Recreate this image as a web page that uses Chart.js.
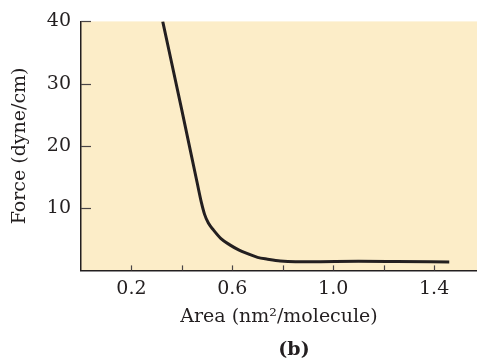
<!DOCTYPE html>
<html>
<head>
<meta charset="utf-8">
<script src="https://cdn.jsdelivr.net/npm/chart.js@4.4.1/dist/chart.umd.min.js"></script>
<style>
  html, body { margin: 0; padding: 0; background: #ffffff; }
  #wrap { width: 477px; height: 359px; position: relative; }
</style>
</head>
<body>
<div id="wrap"><canvas id="c"></canvas></div>
<script>
// Surface pressure isotherm (force vs. area per molecule)
const areaValues  = [0.324, 0.40, 0.46, 0.478, 0.490, 0.505, 0.525, 0.555, 0.59, 0.625, 0.66, 0.70, 0.74, 0.79, 0.85, 0.95, 1.10, 1.25, 1.46];
const forceValues = [40.0, 25.7, 14.2, 10.8, 9.0, 7.6, 6.5, 5.1, 4.1, 3.3, 2.7, 2.1, 1.8, 1.5, 1.38, 1.4, 1.45, 1.42, 1.36];
const xTickValues = [0.2, 0.4, 0.6, 0.8, 1.0, 1.2, 1.4];
const xTickLabels = ['0.2', '', '0.6', '', '1.0', '', '1.4'];
const yTickValues = [10, 20, 30, 40];
const yTickLabels = ['10', '20', '30', '40'];
const xTitle = 'Area (nm²/molecule)';
const yTitle = 'Force (dyne/cm)';
const panelLabel = '(b)';

const FONT = "'DejaVu Serif', serif";
const INK = '#231f20';

const points = areaValues.map((a, i) => ({ x: a, y: forceValues[i] }));

const paperPlugin = {
  id: 'paper',
  beforeDraw(chart) {
    const { ctx, chartArea: a } = chart;
    ctx.save();
    ctx.fillStyle = '#fcedc8';
    ctx.fillRect(a.left, a.top, a.right - a.left, a.bottom - a.top);
    ctx.restore();
  },
  afterDraw(chart) {
    const { ctx, chartArea: a, scales } = chart;
    ctx.save();
    ctx.strokeStyle = '#4a4546';
    ctx.lineWidth = 1.2;
    scales.x.ticks.forEach(t => {
      const px = Math.round(scales.x.getPixelForValue(t.value)) + 0.5;
      ctx.beginPath();
      ctx.moveTo(px, a.bottom);
      ctx.lineTo(px, a.bottom - 5);
      ctx.stroke();
    });
    scales.y.ticks.forEach(t => {
      const py = Math.round(scales.y.getPixelForValue(t.value)) + 0.5;
      ctx.beginPath();
      ctx.moveTo(a.left, py);
      ctx.lineTo(a.left + 10, py);
      ctx.stroke();
    });
    ctx.fillStyle = INK;
    ctx.font = "bold 19px " + FONT;
    ctx.textAlign = 'center';
    ctx.textBaseline = 'middle';
    ctx.fillText(panelLabel, (a.left + a.right) / 2 + 15, 350);
    ctx.restore();
  }
};

new Chart(document.getElementById('c'), {
  type: 'scatter',
  data: {
    datasets: [{
      data: points,
      showLine: true,
      borderColor: INK,
      borderWidth: 3,
      pointRadius: 0,
      cubicInterpolationMode: 'monotone',
      fill: false
    }]
  },
  options: {
    responsive: true,
    maintainAspectRatio: false,
    animation: false,
    devicePixelRatio: 1,
    layout: { padding: { left: 9, right: 0, top: 12, bottom: 31 } },
    plugins: { legend: { display: false }, tooltip: { enabled: false } },
    scales: {
      x: {
        type: 'linear',
        min: 0,
        max: 1.57,
        afterBuildTicks(scale) { scale.ticks = xTickValues.map(v => ({ value: v })); },
        ticks: {
          autoSkip: false,
          maxRotation: 0,
          padding: 7,
          color: INK,
          font: { family: FONT, size: 19 },
          callback(value) {
            const i = xTickValues.findIndex(v => Math.abs(v - value) < 1e-9);
            return i >= 0 ? xTickLabels[i] : '';
          }
        },
        grid: { display: false, drawTicks: false },
        border: { display: true, color: INK, width: 1.5 },
        title: {
          display: true,
          text: xTitle,
          color: INK,
          font: { family: FONT, size: 19 },
          padding: { top: -2, bottom: 0 }
        }
      },
      y: {
        type: 'linear',
        min: 0,
        max: 40,
        afterBuildTicks(scale) { scale.ticks = yTickValues.map(v => ({ value: v })); },
        ticks: {
          padding: 10,
          color: INK,
          font: { family: FONT, size: 19 },
          callback(value) {
            const i = yTickValues.indexOf(value);
            return i >= 0 ? yTickLabels[i] : '';
          }
        },
        grid: { display: false, drawTicks: false },
        border: { display: true, color: INK, width: 1.5 },
        title: {
          display: true,
          text: yTitle,
          color: INK,
          font: { family: FONT, size: 19 },
          padding: { top: 0, bottom: 5 }
        }
      }
    }
  },
  plugins: [paperPlugin]
});
</script>
</body>
</html>
